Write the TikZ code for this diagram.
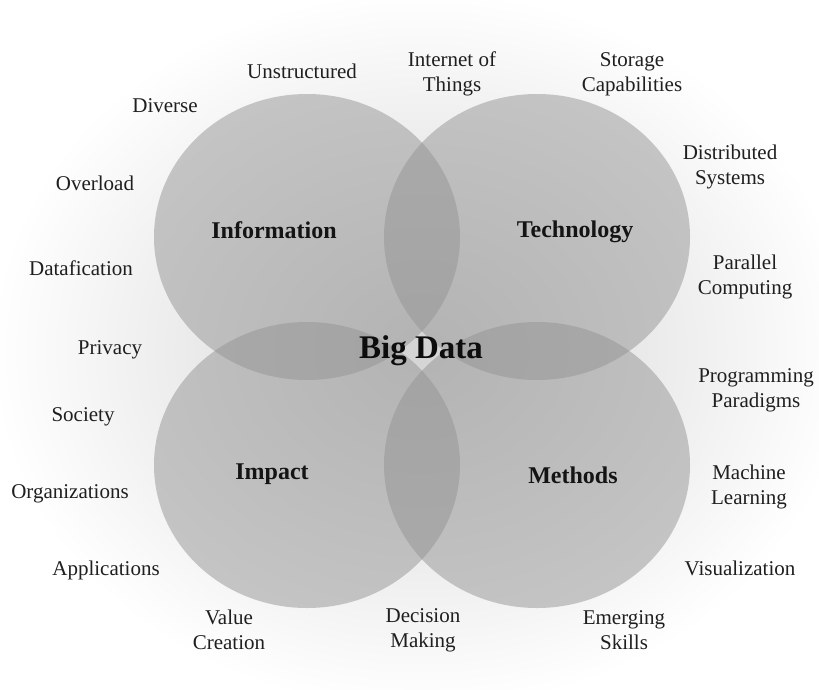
\documentclass[tikz,border=0pt]{standalone}
\usepackage{fontspec}
\setmainfont{Liberation Serif}
\begin{document}
\begin{tikzpicture}[x=1pt,y=-1pt,
  lbl/.style={text=black!88, font=\fontsize{21}{25}\selectfont, align=center, inner sep=0pt},
  core/.style={text=black!92, font=\fontsize{24}{28}\selectfont\bfseries, inner sep=0pt},
  bubble/.style={fill=black!42, fill opacity=0.5, draw=none}]
\useasboundingbox (0,0) rectangle (819,689);
\fill[white] (0,0) rectangle (819,689);
\shade[inner color=black!17, outer color=white] (421,350) ellipse [x radius=430, y radius=360];
% circles
\fill[bubble] (307,237) ellipse [x radius=153, y radius=143];
\fill[bubble] (537,237) ellipse [x radius=153, y radius=143];
\fill[bubble] (307,465) ellipse [x radius=153, y radius=143];
\fill[bubble] (537,465) ellipse [x radius=153, y radius=143];
% core labels
\node[core] (info) at (274,230) {Information};
\node[core] (tech) at (575,232) {Technology};
\node[core] (imp) at (272,474) {Impact};
\node[core] (meth) at (573,475) {Methods};
\node[text=black!95, inner sep=0pt, font=\fontsize{33}{38}\selectfont\bfseries] (bd) at (421,351) {Big Data};
% outer labels
\node[lbl] (l1) at (302,71) {Unstructured};
\node[lbl] (l2) at (165,106) {Diverse};
\node[lbl] (l3) at (95,183) {Overload};
\node[lbl] (l4) at (81,268) {Datafication};
\node[lbl] (l5) at (110,350) {Privacy};
\node[lbl] (l6) at (83,417) {Society};
\node[lbl] (l7) at (70,494) {Organizations};
\node[lbl] (l8) at (106,570) {Applications};
\node[lbl] (l9) at (229,630) {Value\\Creation};
\node[lbl] (l10) at (423,630) {Decision\\Making};
\node[lbl] (l11) at (624,630) {Emerging\\Skills};
\node[lbl] (l12) at (740,568) {Visualization};
\node[lbl] (l13) at (749,487) {Machine\\Learning};
\node[lbl] (l14) at (756,390) {Programming\\Paradigms};
\node[lbl] (l15) at (745,277) {Parallel\\Computing};
\node[lbl] (l16) at (730,167) {Distributed\\Systems};
\node[lbl] (l17) at (632,74) {Storage\\Capabilities};
\node[lbl] (l18) at (452,74) {Internet of\\Things};
\end{tikzpicture}
\end{document}
